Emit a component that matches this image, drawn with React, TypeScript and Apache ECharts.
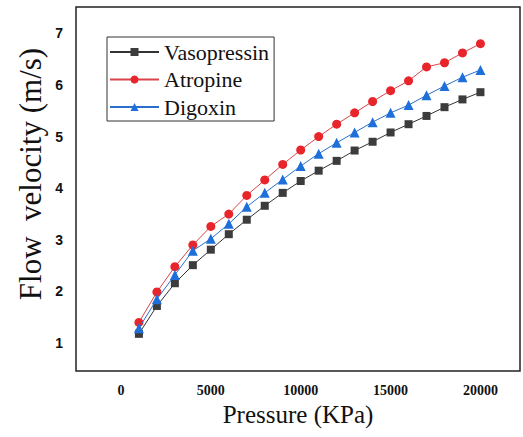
import React, { useEffect, useRef } from "react";
import * as echarts from "echarts";

const pressure = [1000, 2000, 3000, 4000, 5000, 6000, 7000, 8000, 9000, 10000, 11000, 12000, 13000, 14000, 15000, 16000, 17000, 18000, 19000, 20000];
const vasopressin = [1.18, 1.72, 2.16, 2.51, 2.81, 3.11, 3.39, 3.66, 3.91, 4.14, 4.34, 4.53, 4.73, 4.90, 5.08, 5.24, 5.40, 5.57, 5.72, 5.86];
const atropine = [1.40, 1.99, 2.48, 2.90, 3.26, 3.50, 3.86, 4.16, 4.46, 4.74, 5.00, 5.24, 5.46, 5.68, 5.89, 6.08, 6.35, 6.43, 6.62, 6.80];
const digoxin = [1.29, 1.85, 2.32, 2.79, 3.02, 3.31, 3.64, 3.91, 4.17, 4.43, 4.67, 4.88, 5.08, 5.28, 5.46, 5.61, 5.80, 5.98, 6.15, 6.29];
const xTicks = [0, 5000, 10000, 15000, 20000];
const yTicks = [1, 2, 3, 4, 5, 6, 7];

const pair = (ys: number[]) => pressure.map((x, i) => [x, ys[i]]);

export default function App() {
  const ref = useRef<HTMLDivElement>(null);
  useEffect(() => {
    if (!ref.current) return;
    const chart = echarts.init(ref.current, null, { renderer: "svg" });
    const serif = "'Liberation Serif', 'Times New Roman', serif";
    chart.setOption({
      animation: false,
      backgroundColor: "#ffffff",
      grid: {
        left: 76,
        top: 7,
        right: 3,
        bottom: 66,
        show: true,
        borderColor: "#222",
        borderWidth: 1.5,
        backgroundColor: "transparent",
      },
      legend: {
        left: 107,
        top: 37,
        orient: "vertical",
        backgroundColor: "#fff",
        borderColor: "#333",
        borderWidth: 1,
        borderRadius: 0,
        padding: [4, 5, 3, 2],
        itemWidth: 49,
        itemHeight: 10,
        itemGap: 5.5,
        textStyle: { fontFamily: serif, fontSize: 22, color: "#111", lineHeight: 22 },
        data: ["Vasopressin", "Atropine", "Digoxin"],
      },
      xAxis: {
        type: "value",
        min: -2500,
        max: 22200,
        splitLine: { show: false },
        axisLine: { show: false },
        axisTick: { show: false },
        axisLabel: {
          customValues: xTicks,
          formatter: (v: number) => String(v),
          margin: 12,
          fontFamily: serif,
          fontWeight: "bold",
          fontSize: 14,
          color: "#111",
        },
        name: "Pressure (KPa)",
        nameLocation: "middle",
        nameGap: 31,
        nameTextStyle: { fontFamily: serif, fontSize: 25, color: "#111" },
      },
      yAxis: {
        type: "value",
        min: 0.46,
        max: 7.51,
        splitLine: { show: false },
        axisLine: { show: false },
        axisTick: { show: false },
        axisLabel: {
          customValues: yTicks,
          formatter: (v: number) => String(v),
          margin: 13,
          fontFamily: "'Liberation Sans', Arial, sans-serif",
          fontWeight: "bold",
          fontSize: 14,
          color: "#111",
        },
      },
      graphic: [
        {
          type: "text",
          x: 30,
          y: 174,
          rotation: Math.PI / 2,
          style: {
            text: "Flow  velocity (m/s)",
            fontFamily: serif,
            fontSize: 31,
            fill: "#111",
            align: "center",
            verticalAlign: "middle",
          },
        },
      ],
      series: [
        {
          name: "Vasopressin",
          type: "line",
          data: pair(vasopressin),
          symbol: "rect",
          symbolSize: 8,
          itemStyle: { color: "#3c3c3c" },
          lineStyle: { color: "#333", width: 1 },
          z: 3,
        },
        {
          name: "Atropine",
          type: "line",
          data: pair(atropine),
          symbol: "circle",
          symbolSize: 9,
          itemStyle: { color: "#e8252b" },
          lineStyle: { color: "#d9444a", width: 1 },
          z: 2,
        },
        {
          name: "Digoxin",
          type: "line",
          data: pair(digoxin),
          symbol: "triangle",
          symbolSize: 10,
          itemStyle: { color: "#1e6fd9" },
          lineStyle: { color: "#2a6fc9", width: 1 },
          z: 4,
        },
      ],
    });
    return () => chart.dispose();
  }, []);
  return (
    <div
      ref={ref}
      style={{ position: "fixed", left: 0, top: 0, width: 523, height: 437 }}
    />
  );
}
